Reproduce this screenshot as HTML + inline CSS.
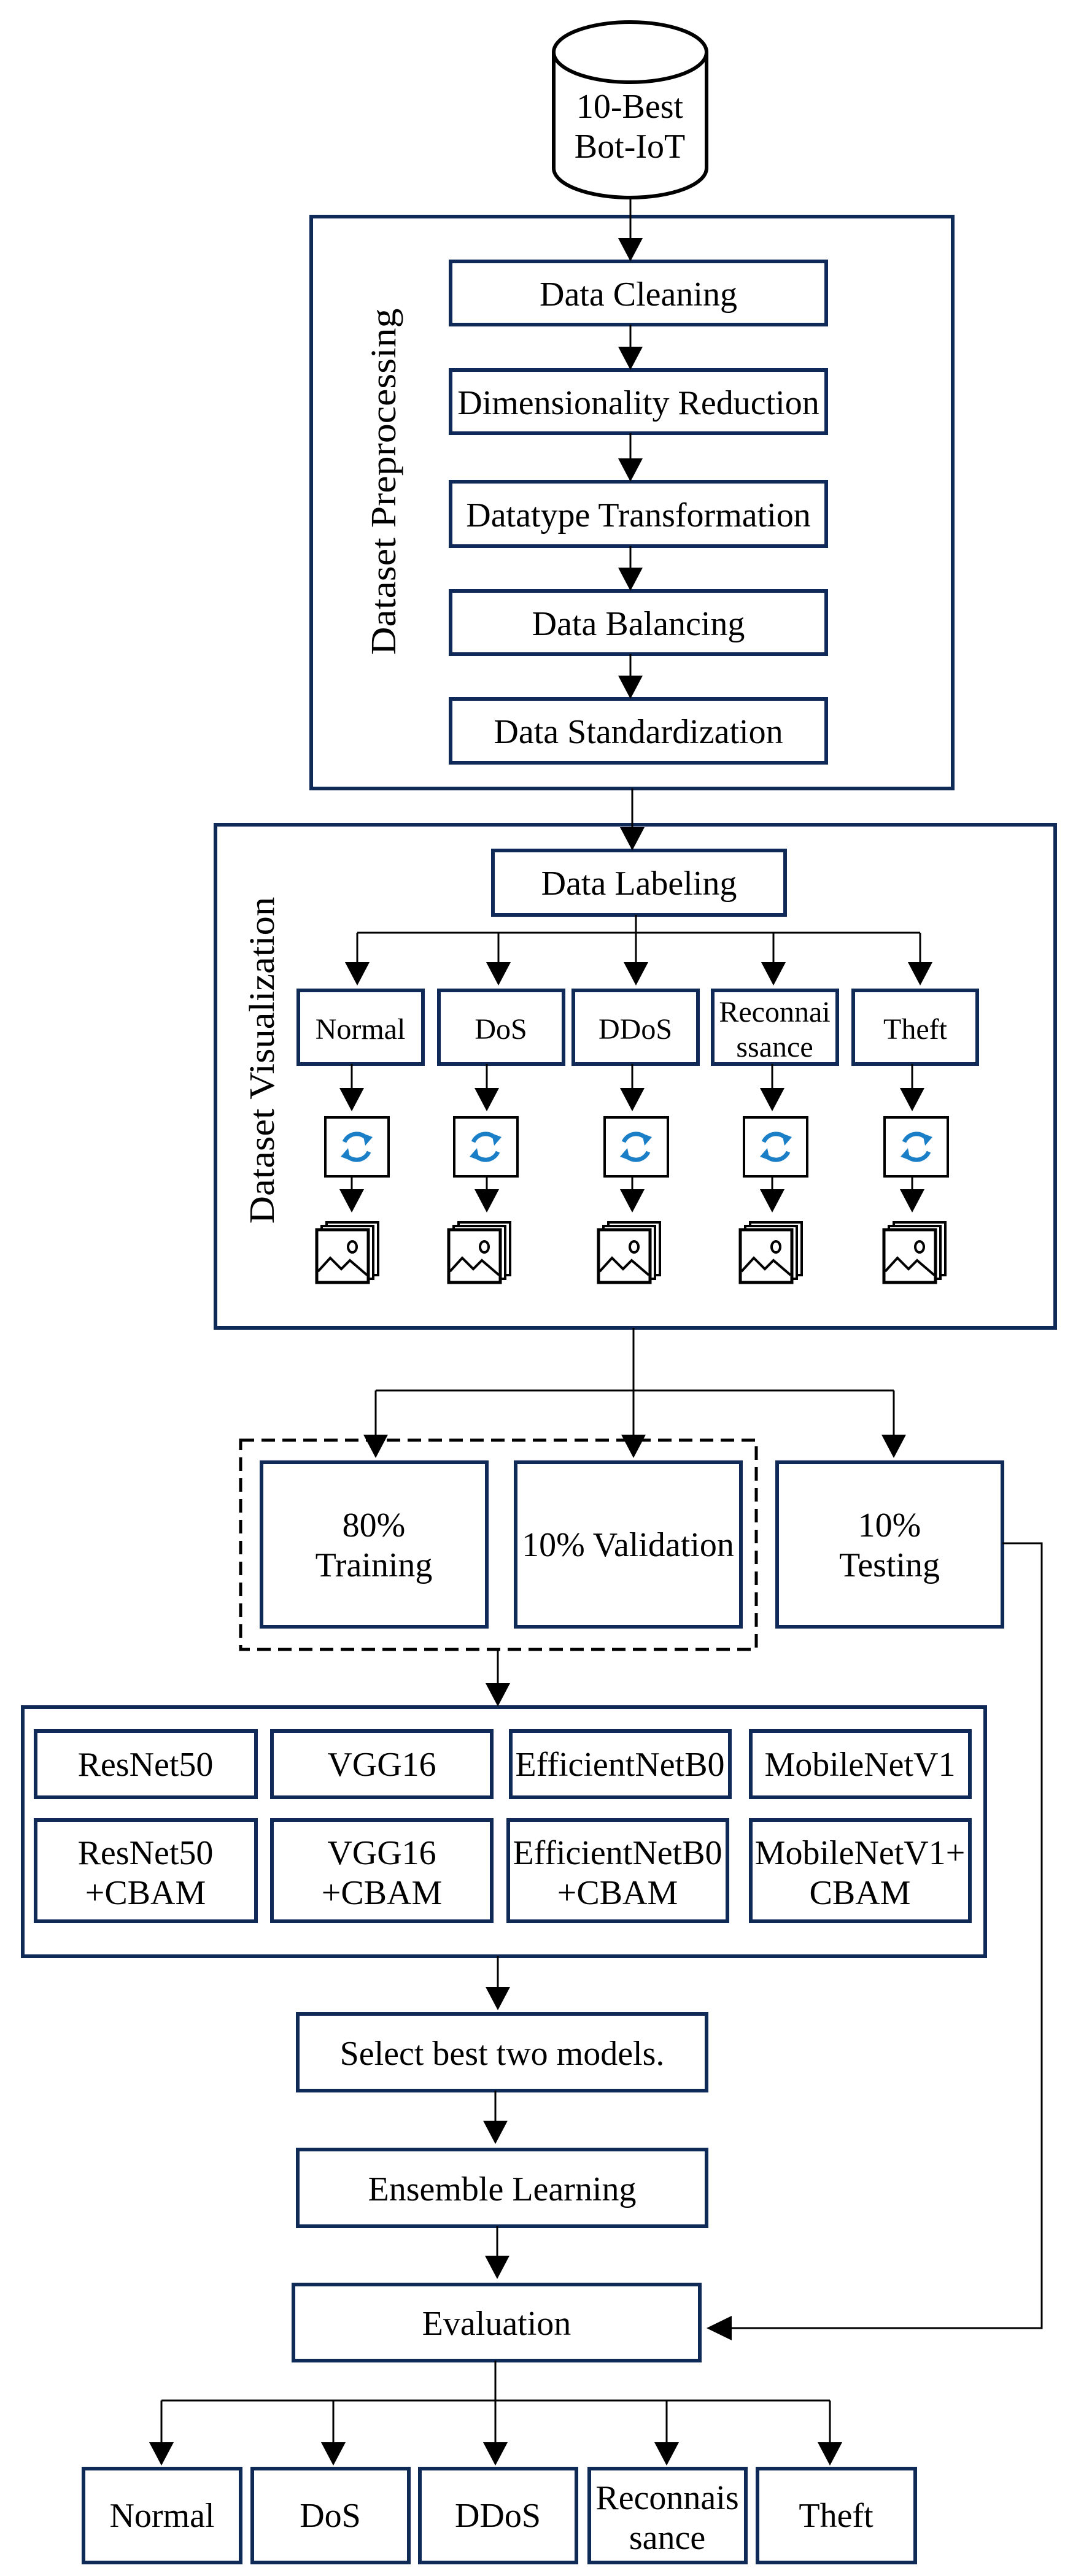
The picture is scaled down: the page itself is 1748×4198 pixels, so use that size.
<!DOCTYPE html>
<html><head><meta charset="utf-8"><style>html,body{margin:0;padding:0;background:#fff}svg{display:block}</style></head>
<body>
<svg width="1748" height="4198" viewBox="0 0 1748 4198" xmlns="http://www.w3.org/2000/svg" font-family="'Liberation Serif', serif" text-anchor="middle">
<defs>
<g id="sync">
<path d="M-20,-8 A22,22 0 0 1 18,-12" fill="none" stroke="#1a7fc7" stroke-width="7"/>
<polygon points="10,-22 26,-16 14,-2" fill="#1a7fc7"/>
<path d="M20,8 A22,22 0 0 1 -18,12" fill="none" stroke="#1a7fc7" stroke-width="7"/>
<polygon points="-10,22 -26,16 -14,2" fill="#1a7fc7"/>
</g>
<g id="img">
<rect x="16" y="0" width="84" height="86" fill="#fff" stroke="#000" stroke-width="4"/>
<rect x="8" y="6" width="84" height="86" fill="#fff" stroke="#000" stroke-width="4"/>
<rect x="0" y="12" width="84" height="86" fill="#fff" stroke="#000" stroke-width="5"/>
<polyline points="2,80 22,58 40,76 54,62 82,86" fill="none" stroke="#000" stroke-width="4"/>
<ellipse cx="58" cy="40" rx="7" ry="9" fill="none" stroke="#000" stroke-width="4"/>
</g>
</defs>
<g stroke="#0f2a57" stroke-width="6" fill="none">
<rect x="507" y="353" width="1045" height="932"/>
<rect x="734" y="426" width="612" height="103"/>
<rect x="734" y="603" width="612" height="103"/>
<rect x="734" y="785" width="612" height="105"/>
<rect x="734" y="963" width="612" height="103"/>
<rect x="734" y="1139" width="612" height="104"/>
<rect x="351" y="1344" width="1368" height="820"/>
<rect x="803" y="1386" width="476" height="105"/>
<rect x="486" y="1614" width="203" height="120"/>
<rect x="715" y="1614" width="203" height="120"/>
<rect x="934" y="1614" width="203" height="120"/>
<rect x="1161" y="1614" width="203" height="120"/>
<rect x="1390" y="1614" width="202" height="120"/>
<rect x="426" y="2383" width="367" height="268"/>
<rect x="840" y="2383" width="367" height="268"/>
<rect x="1266" y="2383" width="367" height="268"/>
<rect x="37" y="2782" width="1568" height="406"/>
<rect x="58" y="2821" width="359" height="108"/>
<rect x="443" y="2821" width="358" height="108"/>
<rect x="832" y="2821" width="357" height="108"/>
<rect x="1223" y="2821" width="357" height="108"/>
<rect x="58" y="2966" width="359" height="165"/>
<rect x="443" y="2966" width="358" height="165"/>
<rect x="828" y="2966" width="357" height="165"/>
<rect x="1223" y="2966" width="357" height="165"/>
<rect x="485" y="3282" width="666" height="125"/>
<rect x="485" y="3503" width="666" height="125"/>
<rect x="478" y="3723" width="662" height="124"/>
<rect x="136" y="4023" width="256" height="153"/>
<rect x="411" y="4023" width="255" height="153"/>
<rect x="684" y="4023" width="255" height="153"/>
<rect x="960" y="4023" width="255" height="153"/>
<rect x="1234" y="4023" width="257" height="153"/>
</g>
<rect x="392" y="2347" width="840" height="341" fill="none" stroke="#000" stroke-width="5" stroke-dasharray="22,12"/>
<path d="M902,85 L902,274 A124.5,48 0 0 0 1151,274 L1151,85" fill="#fff" stroke="#000" stroke-width="6"/>
<ellipse cx="1026.5" cy="85" rx="124.5" ry="49" fill="#fff" stroke="#000" stroke-width="6"/>
<g fill="#fff" stroke="#000" stroke-width="4">
<rect x="530" y="1821" width="103" height="96"/>
<rect x="740" y="1821" width="103" height="96"/>
<rect x="985" y="1821" width="103" height="96"/>
<rect x="1212" y="1821" width="103" height="96"/>
<rect x="1441" y="1821" width="103" height="96"/>
</g>
<use href="#sync" x="581" y="1869"/>
<use href="#sync" x="791" y="1869"/>
<use href="#sync" x="1036" y="1869"/>
<use href="#sync" x="1264" y="1869"/>
<use href="#sync" x="1493" y="1869"/>
<use href="#img" x="516" y="1992"/>
<use href="#img" x="731" y="1992"/>
<use href="#img" x="975" y="1992"/>
<use href="#img" x="1206" y="1992"/>
<use href="#img" x="1440" y="1992"/>
<g stroke="#000" stroke-width="3" fill="none">
<line x1="1027" y1="322" x2="1027" y2="390"/>
<line x1="1027" y1="529" x2="1027" y2="566"/>
<line x1="1027" y1="706" x2="1027" y2="748"/>
<line x1="1027" y1="890" x2="1027" y2="926"/>
<line x1="1027" y1="1066" x2="1027" y2="1102"/>
<line x1="1030" y1="1285" x2="1030" y2="1350"/>
<line x1="1036" y1="1491" x2="1036" y2="1520"/>
<line x1="582" y1="1520" x2="1499" y2="1520"/>
<line x1="582" y1="1520" x2="582" y2="1570"/>
<line x1="812" y1="1520" x2="812" y2="1570"/>
<line x1="1036" y1="1520" x2="1036" y2="1570"/>
<line x1="1260" y1="1520" x2="1260" y2="1570"/>
<line x1="1499" y1="1520" x2="1499" y2="1570"/>
<line x1="573" y1="1734" x2="573" y2="1775"/>
<line x1="793" y1="1734" x2="793" y2="1775"/>
<line x1="1030" y1="1734" x2="1030" y2="1775"/>
<line x1="1258" y1="1734" x2="1258" y2="1775"/>
<line x1="1486" y1="1734" x2="1486" y2="1775"/>
<line x1="573" y1="1917" x2="573" y2="1940"/>
<line x1="793" y1="1917" x2="793" y2="1940"/>
<line x1="1030" y1="1917" x2="1030" y2="1940"/>
<line x1="1258" y1="1917" x2="1258" y2="1940"/>
<line x1="1486" y1="1917" x2="1486" y2="1940"/>
<line x1="1032" y1="2164" x2="1032" y2="2266"/>
<line x1="612" y1="2266" x2="1456" y2="2266"/>
<line x1="612" y1="2266" x2="612" y2="2340"/>
<line x1="1032" y1="2266" x2="1032" y2="2340"/>
<line x1="1456" y1="2266" x2="1456" y2="2340"/>
<polyline points="1633,2515 1697,2515 1697,3794 1190,3794"/>
<line x1="811" y1="2688" x2="811" y2="2745"/>
<line x1="811" y1="3188" x2="811" y2="3240"/>
<line x1="807" y1="3407" x2="807" y2="3458"/>
<line x1="810" y1="3628" x2="810" y2="3678"/>
<line x1="807" y1="3847" x2="807" y2="3912"/>
<line x1="263" y1="3912" x2="1352" y2="3912"/>
<line x1="263" y1="3912" x2="263" y2="3982"/>
<line x1="543" y1="3912" x2="543" y2="3982"/>
<line x1="807" y1="3912" x2="807" y2="3982"/>
<line x1="1086" y1="3912" x2="1086" y2="3982"/>
<line x1="1352" y1="3912" x2="1352" y2="3982"/>
</g>
<g fill="#000">
<polygon points="1007,388 1047,388 1027,426"/>
<polygon points="1007,565 1047,565 1027,603"/>
<polygon points="1007,747 1047,747 1027,785"/>
<polygon points="1007,925 1047,925 1027,963"/>
<polygon points="1007,1101 1047,1101 1027,1139"/>
<polygon points="1010,1348 1050,1348 1030,1386"/>
<polygon points="562,1568 602,1568 582,1606"/>
<polygon points="792,1568 832,1568 812,1606"/>
<polygon points="1016,1568 1056,1568 1036,1606"/>
<polygon points="1240,1568 1280,1568 1260,1606"/>
<polygon points="1479,1568 1519,1568 1499,1606"/>
<polygon points="553,1773 593,1773 573,1811"/>
<polygon points="773,1773 813,1773 793,1811"/>
<polygon points="1010,1773 1050,1773 1030,1811"/>
<polygon points="1238,1773 1278,1773 1258,1811"/>
<polygon points="1466,1773 1506,1773 1486,1811"/>
<polygon points="553,1938 593,1938 573,1976"/>
<polygon points="773,1938 813,1938 793,1976"/>
<polygon points="1010,1938 1050,1938 1030,1976"/>
<polygon points="1238,1938 1278,1938 1258,1976"/>
<polygon points="1466,1938 1506,1938 1486,1976"/>
<polygon points="592,2338 632,2338 612,2376"/>
<polygon points="1012,2338 1052,2338 1032,2376"/>
<polygon points="1436,2338 1476,2338 1456,2376"/>
<polygon points="791,2743 831,2743 811,2781"/>
<polygon points="791,3238 831,3238 811,3276"/>
<polygon points="787,3456 827,3456 807,3494"/>
<polygon points="790,3676 830,3676 810,3714"/>
<polygon points="1192,3774 1192,3814 1151,3794"/>
<polygon points="243,3980 283,3980 263,4018"/>
<polygon points="523,3980 563,3980 543,4018"/>
<polygon points="787,3980 827,3980 807,4018"/>
<polygon points="1066,3980 1106,3980 1086,4018"/>
<polygon points="1332,3980 1372,3980 1352,4018"/>
</g>
<g font-size="56" fill="#000">
<text x="1026" y="192">10-Best</text>
<text x="1026" y="257">Bot-IoT</text>
<text x="1040" y="498">Data Cleaning</text>
<text x="1040" y="675">Dimensionality Reduction</text>
<text x="1040" y="858">Datatype Transformation</text>
<text x="1040" y="1035">Data Balancing</text>
<text x="1040" y="1211">Data Standardization</text>
<text transform="translate(644,785) rotate(-90) scale(1.1,1)" font-size="58">Dataset Preprocessing</text>
<text x="1041" y="1458">Data Labeling</text>
<text transform="translate(446,1728) rotate(-90) scale(1.08,1)" font-size="58">Dataset Visualization</text>
<g font-size="48">
<text x="587" y="1693">Normal</text>
<text x="816" y="1693">DoS</text>
<text x="1035" y="1693">DDoS</text>
<text x="1262" y="1665">Reconnai</text>
<text x="1262" y="1722">ssance</text>
<text x="1491" y="1693">Theft</text>
</g>
<text x="609" y="2504">80%</text>
<text x="609" y="2569">Training</text>
<text x="1023" y="2536">10% Validation</text>
<text x="1449" y="2504">10%</text>
<text x="1449" y="2569">Testing</text>
<text x="237" y="2894">ResNet50</text>
<text x="622" y="2894">VGG16</text>
<text x="1010" y="2894">EfficientNetB0</text>
<text x="1401" y="2894">MobileNetV1</text>
<text x="237" y="3038">ResNet50</text>
<text x="237" y="3103">+CBAM</text>
<text x="622" y="3038">VGG16</text>
<text x="622" y="3103">+CBAM</text>
<text x="1006" y="3038">EfficientNetB0</text>
<text x="1006" y="3103">+CBAM</text>
<text x="1401" y="3038">MobileNetV1+</text>
<text x="1401" y="3103">CBAM</text>
<text x="818" y="3365">Select best two models.</text>
<text x="818" y="3586">Ensemble Learning</text>
<text x="809" y="3805">Evaluation</text>
<text x="264" y="4118">Normal</text>
<text x="538" y="4118">DoS</text>
<text x="811" y="4118">DDoS</text>
<text x="1087" y="4089">Reconnais</text>
<text x="1087" y="4154">sance</text>
<text x="1362" y="4118">Theft</text>
</g>
</svg>
</body></html>
